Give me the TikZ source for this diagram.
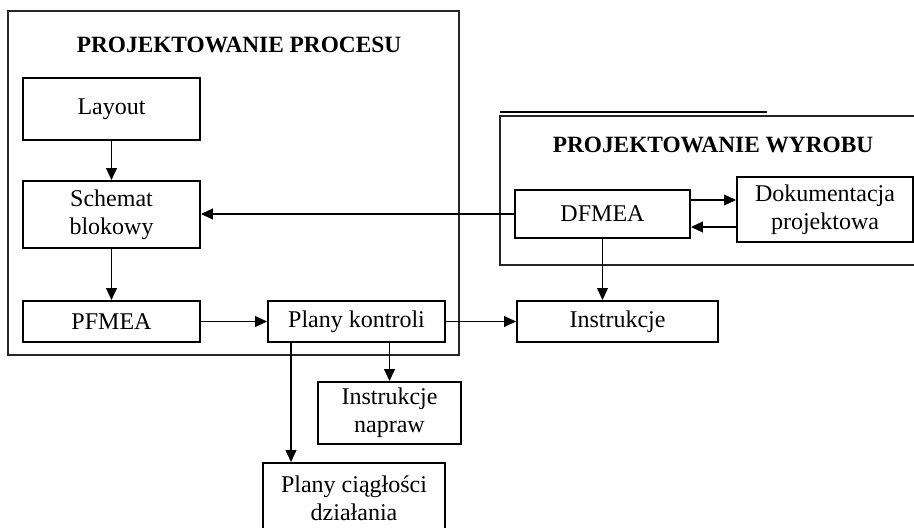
\documentclass[tikz,border=0pt]{standalone}
\usepackage{fontspec}
\setmainfont{Liberation Serif}
\usetikzlibrary{arrows.meta}
\tikzset{
  blk/.style={draw=black, line width=1.35pt, inner sep=0pt, align=center,
              font=\fontsize{18}{21}\selectfont},
  frame/.style={draw=black!85, line width=1.1pt},
  ttl/.style={font=\fontsize{17.5}{20}\selectfont\bfseries, inner sep=0pt},
  arr/.style={draw=black, line width=1.35pt, -{Triangle[length=9pt,width=8pt]}},
  ln/.style={draw=black, line width=1.35pt}
}
\begin{document}
\begin{tikzpicture}[x=0.75pt,y=-0.75pt]
\clip (0,0) rectangle (914,528);
\fill[white] (0,0) rectangle (914,528);
% frames
\draw[frame] (8,11) rectangle (459,355);
\draw[frame] (500,116) rectangle (920,265);
\draw[black, line width=1.4pt] (500,112) -- (767,112);
\node[ttl] (procT) at (239,45) {PROJEKTOWANIE PROCESU};
\node[ttl] (wyrT) at (713,145) {PROJEKTOWANIE WYROBU};
% blocks
\node[blk, minimum width=177*0.75pt, minimum height=62*0.75pt] (layout) at (111.5,109) {Layout};
\node[blk, minimum width=177*0.75pt, minimum height=67*0.75pt] (schemat) at (111.5,214.5) {Schemat\\blokowy};
\node[blk, minimum width=177*0.75pt, minimum height=41*0.75pt] (pfmea) at (111.5,321.5) {PFMEA};
\node[blk, minimum width=177*0.75pt, minimum height=41*0.75pt] (plany) at (356.5,321.5) {Plany kontroli};
\node[blk, minimum width=201*0.75pt, minimum height=41*0.75pt] (instr) at (617.5,321.5) {Instrukcje};
\node[blk, minimum width=143*0.75pt, minimum height=62*0.75pt] (napraw) at (389.5,413) {Instrukcje\\napraw};
\node[blk, minimum width=182*0.75pt, minimum height=70*0.75pt] (ciag) at (354,498) {Plany ciągłości\\działania};
\node[blk, minimum width=175*0.75pt, minimum height=48*0.75pt] (dfmea) at (602.5,214) {DFMEA};
\node[blk, minimum width=176*0.75pt, minimum height=65*0.75pt] (dok) at (825,209.5) {Dokumentacja\\projektowa};
% connectors
\draw[arr] (layout.south) -- (schemat.north);
\draw[arr] (schemat.south) -- (pfmea.north);
\draw[arr] (dfmea.west) -- (dfmea.west -| schemat.east);
\draw[arr] (pfmea.east) -- (plany.west);
\draw[arr] (plany.east) -- (instr.west);
\draw[arr] (dfmea.south) -- (dfmea.south |- instr.north);
\draw[arr] (dfmea.east |- 0,200) -- (dok.west |- 0,200);
\draw[arr] (dok.west |- 0,227) -- (dfmea.east |- 0,227);
\draw[arr] (plany.south -| napraw.north) -- (napraw.north);
\draw[arr] (plany.south -| 291,0) -- (ciag.north -| 291,0);
\end{tikzpicture}
\end{document}
